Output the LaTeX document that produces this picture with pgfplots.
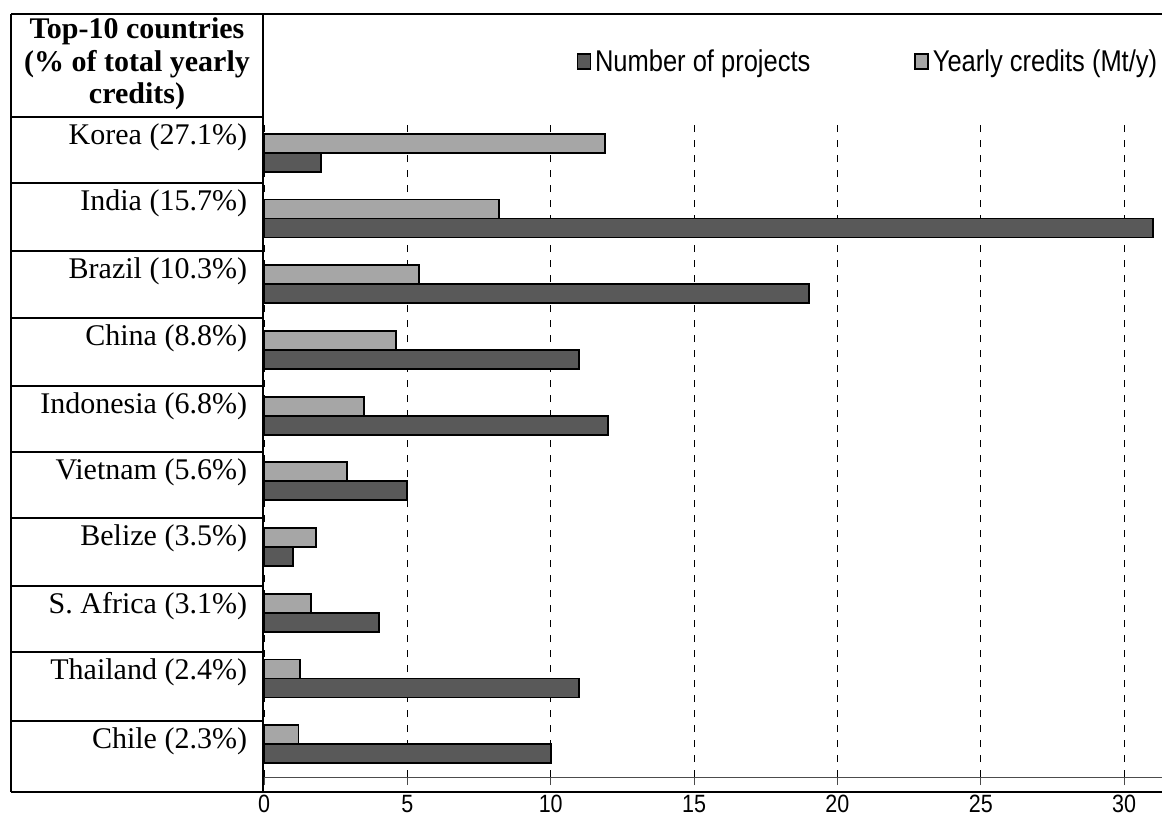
\documentclass[border=0pt]{standalone}
\usepackage{pgfplots}
\pgfplotsset{compat=1.18}
\usepackage{fontspec}
\setmainfont{Liberation Serif}
\newfontfamily\narrowsans[FakeStretch=0.86]{Liberation Sans}
\newfontfamily\legendsans[FakeStretch=0.85]{Liberation Sans}

\definecolor{darkbar}{RGB}{89,89,89}
\definecolor{lightbar}{RGB}{166,166,166}

% y: Korea = 9 ... Chile = 0
\pgfplotstableread{
y projects credits
9 2  11.9
8 31 8.2
7 19 5.4
6 11 4.6
5 12 3.5
4 5  2.9
3 1  1.8
2 4  1.65
1 11 1.25
0 10 1.2
}\datatable

\begin{document}
\begin{tikzpicture}
\begin{axis}[
  at={(132pt,-388.5pt)}, anchor=south west,
  scale only axis, width=449pt, height=328.5pt,
  xmin=0, xmax=31.32, ymin=-0.5, ymax=9.5,
  xbar, bar width=9.5pt,
  axis x line*=bottom, axis y line*=left,
  x axis line style={gray!60!black, line width=0.5pt},
  y axis line style={draw=none},
  xtick={0,5,...,30}, ytick=\empty,
  tick align=outside, major tick length=4pt,
  tick style={gray!60!black, line width=0.4pt},
  xmajorgrids,
  major grid style={black, line width=0.4pt, dash pattern=on 3.5pt off 4pt},
  /pgf/number format/assume math mode=true,
  xticklabel style={font=\narrowsans\fontsize{12.5}{14}\selectfont, yshift=-1.5pt},
  legend columns=2,
  legend style={at={(0.341,1.088)}, anchor=west, draw=none, fill=none,
    font=\legendsans\fontsize{15}{18}\selectfont,
    /tikz/every even column/.append style={column sep=50pt}},
  legend image code/.code={\draw[#1, line width=0.7pt] (0pt,-3.5pt) rectangle (6.5pt,4pt);},
]
\addplot[fill=darkbar, draw=black, line width=0.9pt, bar shift=-4.75pt] table[x=projects, y=y] {\datatable};
\addplot[fill=lightbar, draw=black, line width=0.9pt, bar shift=4.75pt] table[x=credits, y=y] {\datatable};
\legend{Number of projects, Yearly credits (Mt/y)}
\end{axis}

\begin{scope}[x=0.5pt, y=-0.5pt, line width=1pt]
  \draw (11,14) -- (1162,14);
  \draw (11,792) -- (1162,792);
  \draw (11,14) -- (11,792);
  \draw (263,14) -- (263,792);
  \foreach \r in {116.7,183.3,250.7,318.3,385.7,452,518.3,585.7,652.3,721}
    \draw (11,\r) -- (263,\r);
  \begin{scope}[font=\bfseries\fontsize{15}{16}\selectfont]
    \node[anchor=base] at (137,39) {Top-10 countries};
    \node[anchor=base] at (137,71) {(\% of total yearly};
    \node[anchor=base] at (137,103) {credits)};
  \end{scope}
  \begin{scope}[font=\fontsize{15}{17}\selectfont, anchor=base east, inner sep=0pt]
    \node at (248,144.2) {Korea (27.1\%)};
    \node at (248,210.8) {India (15.7\%)};
    \node at (248,278.2) {Brazil (10.3\%)};
    \node at (248,345.8) {China (8.8\%)};
    \node at (248,413.2) {Indonesia (6.8\%)};
    \node at (248,479.5) {Vietnam (5.6\%)};
    \node at (248,545.8) {Belize (3.5\%)};
    \node at (248,613.2) {S. Africa (3.1\%)};
    \node at (248,679.8) {Thailand (2.4\%)};
    \node at (248,748.5) {Chile (2.3\%)};
  \end{scope}
  \pgfresetboundingbox
  \path (0,0) rectangle (1162,819);
\end{scope}
\end{tikzpicture}
\end{document}
